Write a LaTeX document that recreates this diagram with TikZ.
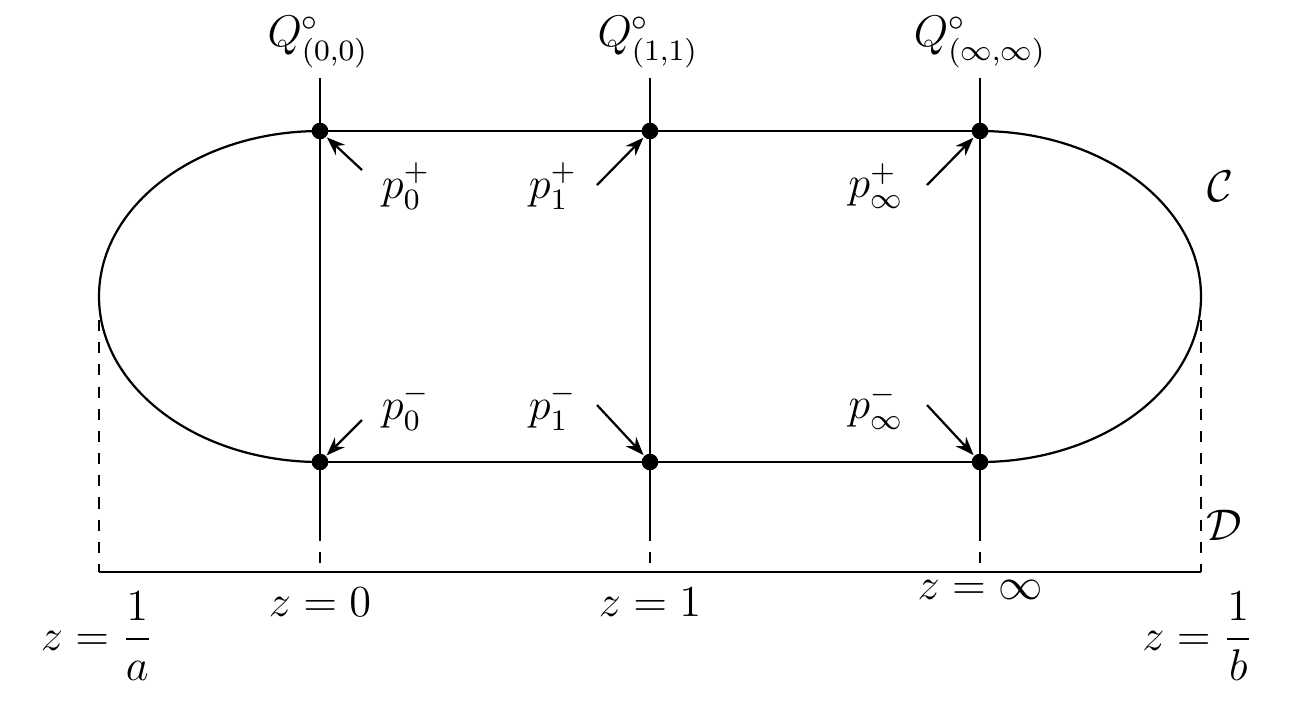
\documentclass[tikz,border=0pt]{standalone}
\usepackage{amsmath}
\usetikzlibrary{arrows.meta}
\begin{document}
\begin{tikzpicture}[x=0.0095cm,y=-0.0095cm,line width=0.6pt,
  dot/.style={circle,fill,inner sep=0pt,minimum size=4.5pt},
  lab/.style={font=\large},
  arr/.style={-{Stealth[length=5pt]}}]
\useasboundingbox (0,0) rectangle (1289,703);
% dots
\foreach \n/\x in {a/320,b/650,c/980}{
  \node[dot] (\n t) at (\x,131) {};
  \node[dot] (\n b) at (\x,462) {};
  \coordinate (\n top) at (\x,78);
  \coordinate (\n mid) at (\x,530);
  \coordinate (\n base) at (\x,572);
  \draw (\n top) -- (\n mid);
  \draw[dashed] (\n mid) -- (\n base);
}
\draw (at.center) -- (bt.center) -- (ct.center);
\draw (ab.center) -- (bb.center) -- (cb.center);
\draw (at.center) arc[start angle=-90,end angle=-270,x radius=221,y radius=165.5];
\draw (ct.center) arc[start angle=-90,end angle=90,x radius=221,y radius=165.5];
\coordinate (L) at (99,296); \coordinate (Lb) at (99,572);
\coordinate (R) at (1201,296); \coordinate (Rb) at (1201,572);
\draw[dashed] (99,320) -- (Lb);
\draw[dashed] (1201,320) -- (Rb);
\draw (Lb) -- (Rb);
% Q labels
\node[lab] (q0) at (318,42) {$Q^\circ_{(0,0)}$};
\node[lab] (q1) at (648,42) {$Q^\circ_{(1,1)}$};
\node[lab] (q2) at (980,42) {$Q^\circ_{(\infty,\infty)}$};
% p labels
\node[lab] (p0p) at (406,186) {$p_0^+$};
\node[lab] (p1p) at (553,186) {$p_1^+$};
\node[lab] (pip) at (876,186) {$p_\infty^+$};
\node[lab] (p0m) at (406,407) {$p_0^-$};
\node[lab] (p1m) at (553,407) {$p_1^-$};
\node[lab] (pim) at (876,407) {$p_\infty^-$};
\draw[arr] (362,170) -- (at);
\draw[arr] (597,185) -- (bt);
\draw[arr] (927,185) -- (ct);
\draw[arr] (362,420) -- (ab);
\draw[arr] (597,405) -- (bb);
\draw[arr] (927,405) -- (cb);
\node[lab] (C) at (1220,186) {$\mathcal{C}$};
\node[lab] (D) at (1224,525) {$\mathcal{D}$};
\node[lab] (z0) at (320,602) {$z=0$};
\node[lab] (z1) at (650,602) {$z=1$};
\node[lab] (zi) at (980,590) {$z=\infty$};
\node[lab] (za) at (97,636) {$z=\dfrac{1}{a}$};
\node[lab] (zb) at (1198,636) {$z=\dfrac{1}{b}$};
\end{tikzpicture}
\end{document}
